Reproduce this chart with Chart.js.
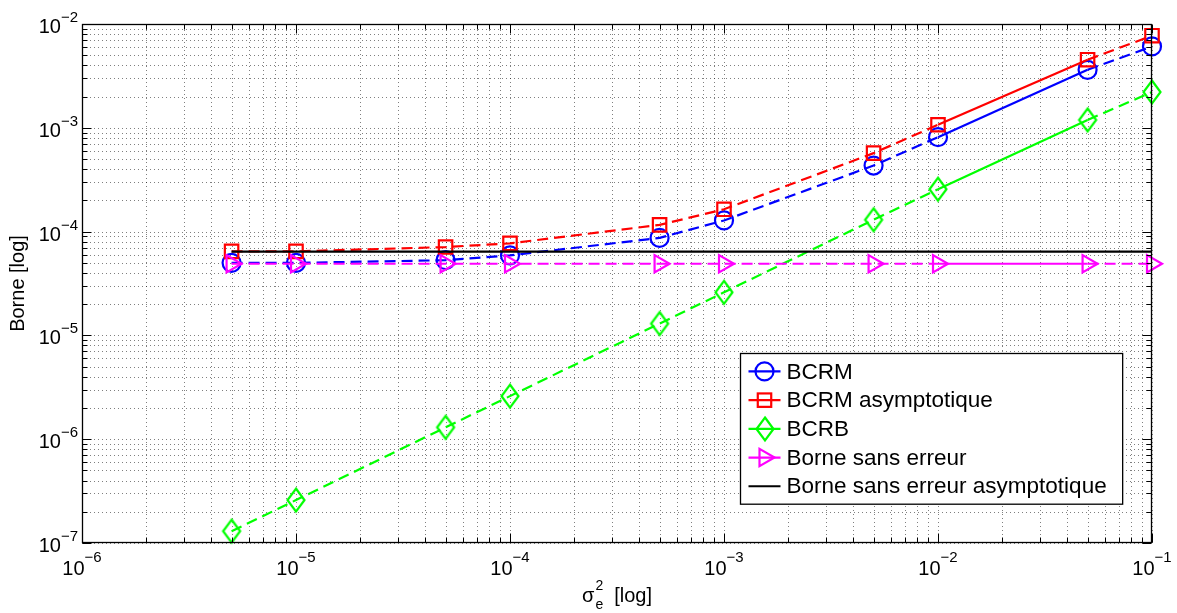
<!DOCTYPE html>
<html>
<head>
<meta charset="utf-8">
<script src="https://cdn.jsdelivr.net/npm/chart.js@4.4.1/dist/chart.umd.min.js"></script>
<style>
html,body{margin:0;padding:0;background:#fff;}
#wrap{width:1177px;height:613px;position:relative;}
</style>
</head>
<body>
<div id="wrap"><canvas id="c"></canvas></div>
<script>
// ---- data ----
const sigma2 = [5e-6, 1e-5, 5e-5, 1e-4, 5e-4, 1e-3, 5e-3, 1e-2, 5e-2, 1e-1];
const bcrm = [5.0e-5, 5.0e-5, 5.3e-5, 5.9e-5, 8.7e-5, 1.28e-4, 4.33e-4, 8.13e-4, 3.62e-3, 6.08e-3];
const bcrmAsym = [6.45e-5, 6.45e-5, 7.1e-5, 7.7e-5, 1.16e-4, 1.64e-4, 5.7e-4, 1.07e-3, 4.53e-3, 7.71e-3];
const bcrb = [1.3e-7, 2.59e-7, 1.3e-6, 2.6e-6, 1.3e-5, 2.6e-5, 1.3e-4, 2.56e-4, 1.19e-3, 2.21e-3];
const borneSansErreur = [4.9e-5, 4.9e-5, 4.9e-5, 4.9e-5, 4.9e-5, 4.9e-5, 4.9e-5, 4.9e-5, 4.9e-5, 4.9e-5];
const borneSansErreurAsym = [6.4e-5, 6.4e-5, 6.4e-5, 6.4e-5, 6.4e-5, 6.4e-5, 6.4e-5, 6.4e-5, 6.4e-5, 6.4e-5];
const seriesLabels = ['BCRM', 'BCRM asymptotique', 'BCRB', 'Borne sans erreur', 'Borne sans erreur asymptotique'];
const xTickExponents = [-6, -5, -4, -3, -2, -1];
const yTickExponents = [-7, -6, -5, -4, -3, -2];
const minorMultipliers = [2, 3, 4, 5, 6, 7, 8, 9];
const xTitleMain = 'σ';
const xTitleSub = 'e';
const xTitleSup = '2';
const xTitleRest = '[log]';
const yTitle = 'Borne [log]';

const FONT = '"Liberation Sans", Arial, Helvetica, sans-serif';
const DASH = [11, 6];
const LW = 2.2;

// diamond marker canvas (taller than wide, as in the reference)
function makeDiamond(color) {
  const c = document.createElement('canvas');
  c.width = 22; c.height = 28;
  const g = c.getContext('2d');
  g.strokeStyle = color; g.lineWidth = 2.2;
  g.beginPath();
  g.moveTo(11, 2.5); g.lineTo(19.5, 14); g.lineTo(11, 25.5); g.lineTo(2.5, 14); g.closePath();
  g.stroke();
  return c;
}
const diamond = makeDiamond('#00ff00');

const pts = arr => sigma2.map((x, i) => ({x: x, y: arr[i]}));
const segDash = ctx => (ctx.p0DataIndex === 7 ? [] : DASH);

const datasets = [
  {label: seriesLabels[0], data: pts(bcrm), borderColor: '#0000ff', pointStyle: 'circle', pointRadius: 9, rotation: 0, dashed: true, order: 4},
  {label: seriesLabels[1], data: pts(bcrmAsym), borderColor: '#ff0000', pointStyle: 'rect', pointRadius: 9.5, rotation: 0, dashed: true, order: 3},
  {label: seriesLabels[2], data: pts(bcrb), borderColor: '#00ff00', pointStyle: diamond, pointRadius: 10, rotation: 0, dashed: true, order: 2},
  {label: seriesLabels[3], data: pts(borneSansErreur), borderColor: '#ff00ff', pointStyle: 'triangle', pointRadius: 10, rotation: 90, dashed: true, order: 1},
  {label: seriesLabels[4], data: pts(borneSansErreurAsym), borderColor: '#000000', pointStyle: false, pointRadius: 0, rotation: 0, dashed: false, order: 0}
].map(d => Object.assign(d, {
  borderWidth: LW,
  pointBorderColor: d.borderColor,
  pointBackgroundColor: 'rgba(0,0,0,0)',
  pointBorderWidth: LW,
  pointRotation: d.rotation,
  pointHoverRadius: d.pointRadius,
  borderDash: d.dashed ? DASH : [],
  segment: d.dashed ? {borderDash: segDash} : undefined,
  tension: 0,
  fill: false,
  clip: false
}));

function decadeValues(exps) {
  const major = [], minor = [];
  exps.forEach((e, i) => {
    major.push(Math.pow(10, e));
    if (i < exps.length - 1) minorMultipliers.forEach(m => minor.push(m * Math.pow(10, e)));
  });
  return {major, minor};
}
const xT = decadeValues(xTickExponents);
const yT = decadeValues(yTickExponents);

function drawMarker(ctx, ds, x, y) {
  ctx.save();
  ctx.strokeStyle = ds.borderColor; ctx.lineWidth = LW; ctx.setLineDash([]);
  const st = ds.pointStyle, r = ds.pointRadius;
  if (st && typeof st === 'object') {
    ctx.drawImage(st, Math.round(x - st.width / 2), Math.round(y - st.height / 2));
  } else if (st === 'circle') {
    ctx.beginPath(); ctx.arc(x, y, r, 0, Math.PI * 2); ctx.stroke();
  } else if (st === 'rect') {
    const s = Math.SQRT1_2 * r;
    ctx.strokeRect(x - s, y - s, 2 * s, 2 * s);
  } else if (st === 'triangle') {
    ctx.beginPath();
    ctx.moveTo(x + r, y);
    ctx.lineTo(x - r / 2, y - r * 0.866);
    ctx.lineTo(x - r / 2, y + r * 0.866);
    ctx.closePath(); ctx.stroke();
  }
  ctx.restore();
}

const matlabAxes = {
  id: 'matlabAxes',
  beforeDatasetsDraw(chart) {
    const {ctx, chartArea: a, scales: {x: xs, y: ys}} = chart;
    ctx.save();
    ctx.strokeStyle = 'rgba(0,0,0,0.5)';
    ctx.lineWidth = 1;
    ctx.setLineDash([1, 3]);
    xT.major.concat(xT.minor).forEach(v => {
      const px = Math.round(xs.getPixelForValue(v)) + 0.5;
      ctx.beginPath(); ctx.moveTo(px, a.bottom); ctx.lineTo(px, a.top); ctx.stroke();
    });
    yT.major.concat(yT.minor).forEach(v => {
      const py = Math.round(ys.getPixelForValue(v)) + 0.5;
      ctx.beginPath(); ctx.moveTo(a.left, py); ctx.lineTo(a.right, py); ctx.stroke();
    });
    ctx.restore();
  },
  afterDatasetsDraw(chart) {
    const {ctx, chartArea: a, scales: {x: xs, y: ys}} = chart;
    ctx.save();
    ctx.setLineDash([]);
    ctx.strokeStyle = '#000';
    ctx.lineWidth = 1;
    const L = Math.round(a.left) + 0.5, R = Math.round(a.right) - 0.5;
    const T = Math.round(a.top) + 0.5, B = Math.round(a.bottom) - 0.5;
    // inward ticks
    const tick = (v, len, axis) => {
      if (axis === 'x') {
        const px = Math.round(xs.getPixelForValue(v)) + 0.5;
        ctx.beginPath(); ctx.moveTo(px, B); ctx.lineTo(px, B - len); ctx.moveTo(px, T); ctx.lineTo(px, T + len); ctx.stroke();
      } else {
        const py = Math.round(ys.getPixelForValue(v)) + 0.5;
        ctx.beginPath(); ctx.moveTo(L, py); ctx.lineTo(L + len, py); ctx.moveTo(R, py); ctx.lineTo(R - len, py); ctx.stroke();
      }
    };
    xT.major.forEach(v => tick(v, 9, 'x'));
    xT.minor.forEach(v => tick(v, 5, 'x'));
    yT.major.forEach(v => tick(v, 9, 'y'));
    yT.minor.forEach(v => tick(v, 5, 'y'));
    ctx.lineWidth = 1.3;
    ctx.strokeRect(L, T, R - L, B - T);

    // tick labels
    ctx.fillStyle = '#000';
    ctx.textBaseline = 'alphabetic';
    ctx.textAlign = 'left';
    const baseFont = '20px ' + FONT, expFont = '15px ' + FONT;
    const expStr = e => (e < 0 ? '\u2212' : '') + Math.abs(e);
    yTickExponents.forEach(e => {
      const py = ys.getPixelForValue(Math.pow(10, e));
      ctx.font = expFont; const ew = ctx.measureText(expStr(e)).width;
      ctx.font = baseFont; const bw = ctx.measureText('10').width;
      const right = a.left - 4;
      ctx.fillText('10', right - ew - bw, py + 9);
      ctx.font = expFont; ctx.fillText(expStr(e), right - ew, py - 2);
    });
    xTickExponents.forEach(e => {
      const px = xs.getPixelForValue(Math.pow(10, e));
      ctx.font = expFont; const ew = ctx.measureText(expStr(e)).width;
      ctx.font = baseFont; const bw = ctx.measureText('10').width;
      const left = px - (bw + ew) / 2;
      ctx.fillText('10', left, a.bottom + 32);
      ctx.font = expFont; ctx.fillText(expStr(e), left + bw, a.bottom + 19);
    });

    // axis titles
    ctx.font = '20px ' + FONT;
    const sw = ctx.measureText(xTitleMain).width;
    const rw = ctx.measureText(xTitleRest).width;
    ctx.font = '14px ' + FONT;
    const scw = Math.max(ctx.measureText(xTitleSub).width, ctx.measureText(xTitleSup).width);
    const gap = 11;
    const total = sw + 1 + scw + gap + rw;
    const x0 = (a.left + a.right) / 2 - total / 2;
    const by = a.bottom + 59;
    ctx.font = '20px ' + FONT; ctx.fillText(xTitleMain, x0, by);
    ctx.font = '14px ' + FONT;
    ctx.fillText(xTitleSup, x0 + sw + 1, by - 12);
    ctx.fillText(xTitleSub, x0 + sw + 1, by + 7);
    ctx.font = '20px ' + FONT; ctx.fillText(xTitleRest, x0 + sw + 1 + scw + gap, by);

    ctx.save();
    ctx.translate(24, (a.top + a.bottom) / 2);
    ctx.rotate(-Math.PI / 2);
    ctx.textAlign = 'center';
    ctx.font = '20px ' + FONT;
    ctx.fillText(yTitle, 0, 0);
    ctx.restore();

    // legend
    const dsets = chart.data.datasets;
    ctx.font = '22.5px ' + FONT;
    const maxW = Math.max(...dsets.map(d => ctx.measureText(d.label).width));
    const rowH = 28.7, padTop = 3.6;
    const boxW = 46 + maxW + 16;
    const boxH = dsets.length * rowH + 2 * padTop;
    const bx = Math.round(a.right - 30 - boxW) + 0.5;
    const byy = Math.round(a.bottom - 39 - boxH) + 0.5;
    ctx.fillStyle = '#fff';
    ctx.fillRect(bx, byy, boxW, boxH);
    ctx.strokeStyle = '#000'; ctx.lineWidth = 1.3;
    ctx.strokeRect(bx, byy, boxW, boxH);
    dsets.forEach((d, i) => {
      const cy = byy + padTop + rowH * (i + 0.5);
      ctx.strokeStyle = d.borderColor; ctx.lineWidth = LW; ctx.setLineDash([]);
      ctx.beginPath(); ctx.moveTo(bx + 8, cy); ctx.lineTo(bx + 40, cy); ctx.stroke();
      drawMarker(ctx, d, bx + 24, cy);
      ctx.fillStyle = '#000';
      ctx.textBaseline = 'middle';
      ctx.textAlign = 'left';
      ctx.font = '22.5px ' + FONT;
      ctx.fillText(d.label, bx + 46, cy + 1);
    });
    ctx.restore();
  }
};

new Chart(document.getElementById('c'), {
  type: 'line',
  data: {datasets: datasets},
  options: {
    responsive: true,
    maintainAspectRatio: false,
    animation: false,
    devicePixelRatio: 1,
    parsing: true,
    layout: {padding: {left: 82, top: 24, right: 25, bottom: 70}},
    scales: {
      x: {type: 'logarithmic', min: 1e-6, max: 1e-1, display: false},
      y: {type: 'logarithmic', min: 1e-7, max: 1e-2, display: false}
    },
    plugins: {legend: {display: false}, tooltip: {enabled: false}},
    events: []
  },
  plugins: [matlabAxes]
});
</script>
</body>
</html>
